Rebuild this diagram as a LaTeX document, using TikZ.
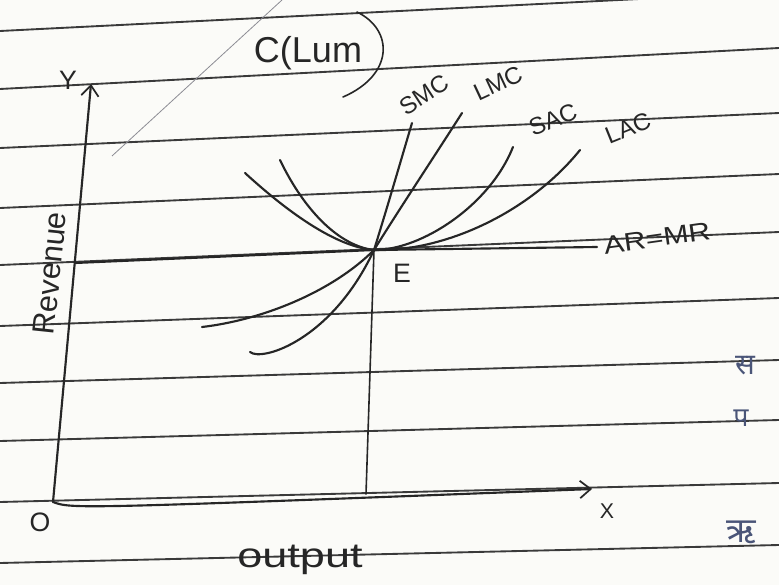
\documentclass[tikz,border=0pt]{standalone}
\usepackage{fontspec}
\setmainfont{Liberation Sans}
\newfontfamily\devfont[Script=Devanagari]{Noto Sans}
\usetikzlibrary{arrows.meta}
\definecolor{paper}{HTML}{FBFBF8}
\definecolor{ruleink}{HTML}{3A3A3A}
\definecolor{penink}{HTML}{262626}
\definecolor{blueink}{HTML}{4A5578}
\definecolor{pencil}{HTML}{8C8C94}

\begin{document}
\begin{tikzpicture}[x=0.75pt,y=-0.75pt,
    rule/.style={ruleink,line width=1.4pt},
    pen/.style={penink,line width=1.6pt,line cap=round},
    barb/.style={-{Straight Barb[length=8pt,width=13pt,line width=1.3pt]}},
    lbl/.style={penink,inner sep=0pt},
    curvelbl/.style={lbl,font=\fontsize{18}{18}\selectfont}]
  \useasboundingbox (0,0) rectangle (779,585);
  \clip (0,0) rectangle (779,585);
  \fill[paper] (0,0) rectangle (779,585);
  % ruled lines of the page
  \foreach \l/\r in {31/-8,89/48,148/113,208/174,265/232,326/298,383/360,441/420,502/483,563/545}
    {\draw[rule] (0,\l) -- (779,\r);}
  \draw[pencil,line width=0.6pt] (112,156) -- (282,0);
  % axes
  \coordinate (O) at (53,502);
  \coordinate (Ytip) at (91,84);
  \coordinate (Xtip) at (592,489);
  \coordinate (E) at (374,250);
  \coordinate (Efoot) at (366,494);
  \coordinate (ARstart) at (75,263);
  \coordinate (ARend) at (597,247);
  \draw[pen,barb] (O) -- (Ytip);
  \draw[pen,barb] (O) .. controls (72,509) .. (Xtip);
  \draw[pen] (ARstart) -- (E) -- (ARend);
  \draw[pen,line width=1.2pt] (E) -- (Efoot);
  % cost curves through E
  \draw[pen] (250,352) .. controls (262,362) and (332,340) .. (E)
    .. controls (388,205) and (401,160) .. (412,123);                 % SMC
  \draw[pen] (202,327) .. controls (262,320) and (332,292) .. (E)
    .. controls (402,205) and (432,160) .. (462,113);                 % LMC
  \draw[pen] (280,160) .. controls (305,212) and (340,246) .. (E)
    .. controls (422,250) and (490,205) .. (513,147);                 % SAC
  \draw[pen] (245,173) .. controls (292,216) and (338,247) .. (E)
    .. controls (445,252) and (530,212) .. (580,150);                 % LAC
  \draw[pen,line width=1.2pt] (357,12) .. controls (394,30) and (394,75) .. (343,97);
  % labels
  \node[lbl,font=\fontsize{20}{20}\selectfont] (ylab) at (68,80) {Y};
  \node[lbl,font=\fontsize{20}{20}\selectfont] (olab) at (40,522) {O};
  \node[lbl,font=\fontsize{16}{16}\selectfont] (xlab) at (607,511) {X};
  \node[lbl,font=\fontsize{20}{20}\selectfont] (elab) at (402,273) {E};
  \node[lbl,font=\fontsize{23}{23}\selectfont,rotate=84] (revlab) at (50,273) {Revenue};
  \node[lbl,font=\fontsize{26}{26}\selectfont,xscale=1.3] (outlab) at (300,560) {output};
  \node[lbl,font=\fontsize{27}{27}\selectfont] (clab) at (308,53) {C(Lum};
  \node[curvelbl,rotate=33] (smc) at (424,95) {SMC};
  \node[curvelbl,rotate=25] (lmc) at (498,83) {LMC};
  \node[curvelbl,rotate=22] (sac) at (553,120) {SAC};
  \node[curvelbl,rotate=22] (lac) at (628,128) {LAC};
  \node[lbl,font=\fontsize{19}{19}\selectfont,rotate=8,xscale=1.2] (armr) at (657,238) {AR=MR};
  % margin letters
  \node[blueink,inner sep=0pt,font=\devfont\fontsize{22}{22}\selectfont] (dev1) at (745,366) {स};
  \node[blueink,inner sep=0pt,font=\devfont\fontsize{20}{20}\selectfont] (dev2) at (741,418) {प};
  \node[blueink,inner sep=0pt,font=\devfont\fontsize{26}{26}\selectfont] (dev3) at (741,532) {ऋ};
\end{tikzpicture}
\end{document}
